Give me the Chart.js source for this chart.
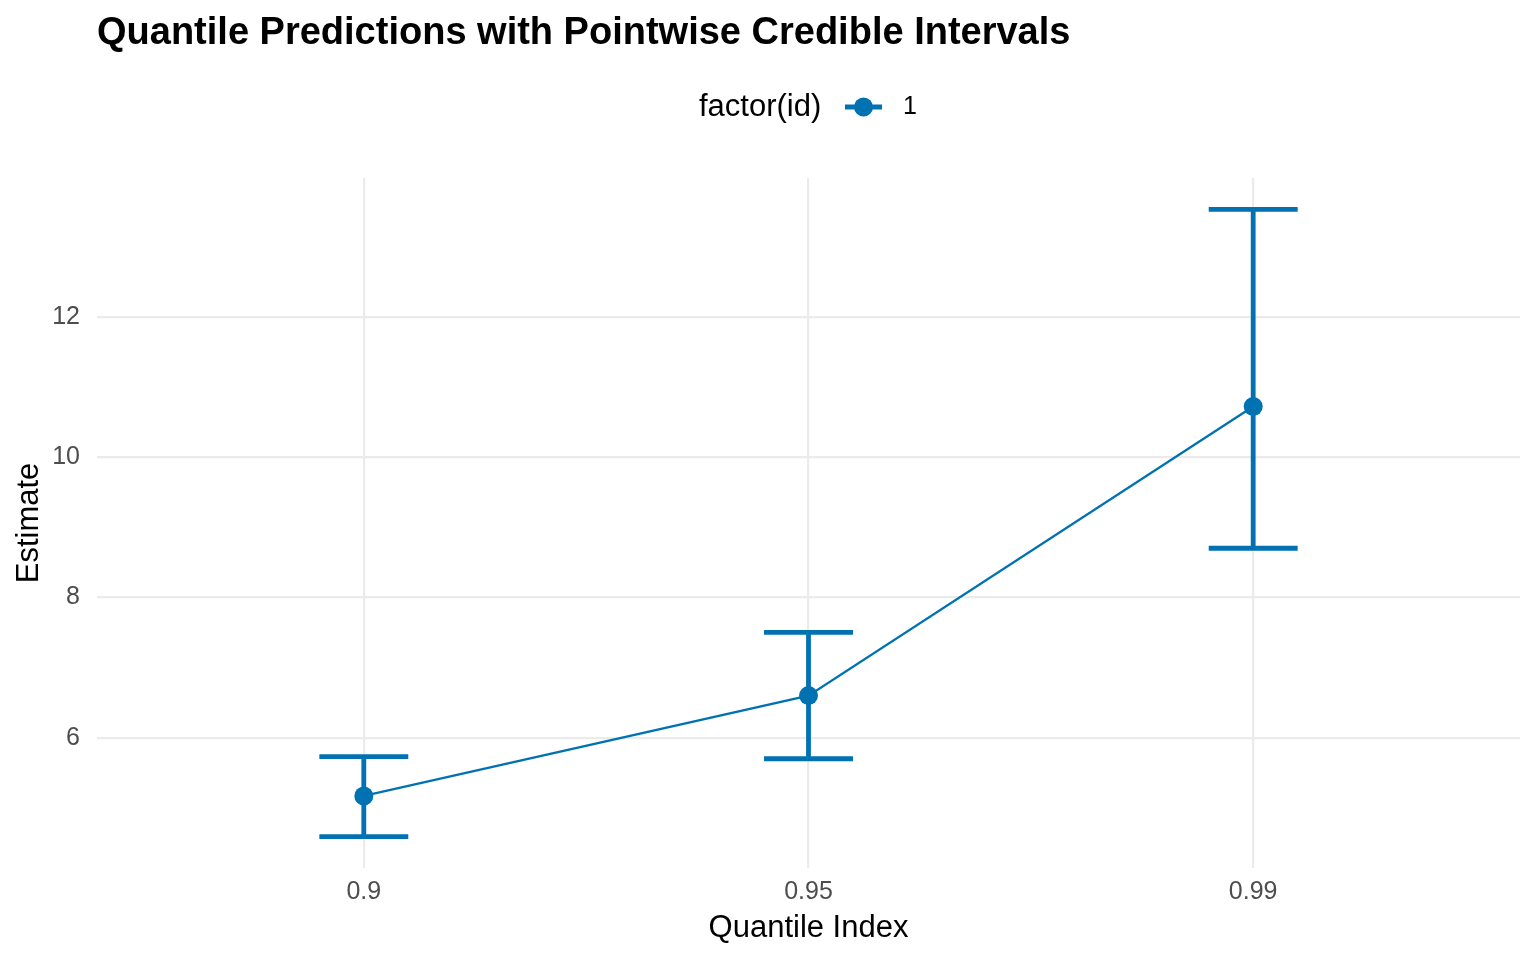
<!DOCTYPE html>
<html>
<head>
<meta charset="utf-8">
<script src="https://cdn.jsdelivr.net/npm/chart.js@4.4.1/dist/chart.umd.min.js"></script>
<style>
  html, body { margin: 0; padding: 0; background: #fff; }
  #chart { display: block; }
</style>
</head>
<body>
<canvas id="chart" width="1536" height="960"></canvas>
<script>
// Data
const quantileLabels = ['0.9', '0.95', '0.99'];
const estimates = [5.17, 6.60, 10.72];
const lowerBounds = [4.59, 5.70, 8.70];
const upperBounds = [5.73, 7.50, 13.53];
const yTickValues = [6, 8, 10, 12];
const seriesName = '1';
const legendTitle = 'factor(id)';

const BLUE = '#0072B2';
const FONT = "'Liberation Sans', Arial, sans-serif";

// ggplot-style 5% expansion of the continuous y range
const yLo = Math.min(...lowerBounds);
const yHi = Math.max(...upperBounds);
const yPad = (yHi - yLo) * 0.05;

const points = estimates.map((v, i) => ({ x: i + 1, y: v }));

// Error bars drawn through the chart scales
const errorBarPlugin = {
    id: 'errorBars',
    beforeDatasetsDraw(chart) {
        const { ctx, scales: { x, y } } = chart;
        ctx.save();
        ctx.strokeStyle = BLUE;
        ctx.lineWidth = 4.8;
        ctx.lineCap = 'butt';
        estimates.forEach((_, i) => {
            const cx = x.getPixelForValue(i + 1);
            const half = x.getPixelForValue(i + 1.1) - cx;
            const yTop = y.getPixelForValue(upperBounds[i]);
            const yBot = y.getPixelForValue(lowerBounds[i]);
            ctx.beginPath();
            ctx.moveTo(cx, yTop);
            ctx.lineTo(cx, yBot);
            ctx.moveTo(cx - half, yTop);
            ctx.lineTo(cx + half, yTop);
            ctx.moveTo(cx - half, yBot);
            ctx.lineTo(cx + half, yBot);
            ctx.stroke();
        });
        ctx.restore();
    }
};

// Title and top legend in ggplot layout
const headerPlugin = {
    id: 'header',
    afterDraw(chart) {
        const { ctx } = chart;
        ctx.save();
        ctx.fillStyle = '#000';
        ctx.textBaseline = 'alphabetic';
        ctx.textAlign = 'left';
        ctx.font = `bold 38px ${FONT}`;
        ctx.fillText('Quantile Predictions with Pointwise Credible Intervals', 97, 44);

        // legend
        const ly = 107;
        ctx.font = `31px ${FONT}`;
        ctx.textBaseline = 'middle';
        ctx.fillText(legendTitle, 699, ly);
        ctx.strokeStyle = BLUE;
        ctx.lineWidth = 4.8;
        ctx.beginPath();
        ctx.moveTo(845, ly);
        ctx.lineTo(882, ly);
        ctx.stroke();
        ctx.fillStyle = BLUE;
        ctx.beginPath();
        ctx.arc(863.5, ly, 9.5, 0, Math.PI * 2);
        ctx.fill();
        ctx.fillStyle = '#000';
        ctx.font = `25px ${FONT}`;
        ctx.fillText(seriesName, 903, ly);
        ctx.restore();
    }
};

new Chart(document.getElementById('chart'), {
    type: 'line',
    data: {
        datasets: [{
            label: seriesName,
            data: points,
            borderColor: BLUE,
            borderWidth: 2.3,
            backgroundColor: BLUE,
            pointBackgroundColor: BLUE,
            pointBorderWidth: 0,
            pointRadius: 9.5,
            tension: 0,
            fill: false
        }]
    },
    options: {
        responsive: false,
        animation: false,
        devicePixelRatio: 1,
        layout: { padding: { top: 178, right: 16, left: 0, bottom: 0 } },
        plugins: {
            legend: { display: false },
            title: { display: false },
            tooltip: { enabled: false }
        },
        scales: {
            x: {
                type: 'linear',
                min: 0.4,
                max: quantileLabels.length + 0.6,
                afterBuildTicks: (scale) => {
                    scale.ticks = quantileLabels.map((_, i) => ({ value: i + 1 }));
                },
                afterFit: (scale) => { scale.height = 92; },
                ticks: {
                    callback: (v) => quantileLabels[Math.round(v) - 1],
                    color: '#4D4D4D',
                    font: { family: FONT, size: 25 },
                    padding: 9,
                    maxRotation: 0,
                    autoSkip: false
                },
                grid: { color: '#EBEBEB', lineWidth: 2.2, drawTicks: false },
                border: { display: false },
                title: {
                    display: true,
                    text: 'Quantile Index',
                    color: '#000',
                    font: { family: FONT, size: 31 },
                    padding: { top: 0, bottom: 13 }
                }
            },
            y: {
                type: 'linear',
                min: yLo - yPad,
                max: yHi + yPad,
                afterBuildTicks: (scale) => {
                    scale.ticks = yTickValues.map(v => ({ value: v }));
                },
                afterFit: (scale) => { scale.width = 97; },
                ticks: {
                    color: '#4D4D4D',
                    font: { family: FONT, size: 25 },
                    padding: 17
                },
                grid: { color: '#EBEBEB', lineWidth: 2.2, drawTicks: false },
                border: { display: false },
                title: {
                    display: true,
                    text: 'Estimate',
                    color: '#000',
                    font: { family: FONT, size: 31 },
                    padding: { top: 11, bottom: 0 }
                }
            }
        }
    },
    plugins: [errorBarPlugin, headerPlugin]
});
</script>
</body>
</html>
